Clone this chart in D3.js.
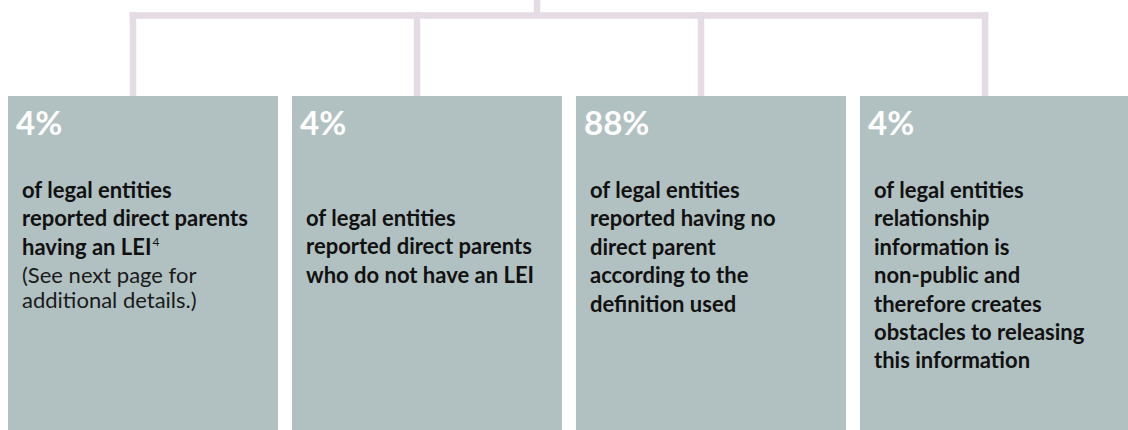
<!DOCTYPE html>
<html>
<head>
<meta charset="utf-8">
<script src="https://cdn.jsdelivr.net/npm/d3@7"></script>
<style>
    body { margin: 0; background: #ffffff; }
    #chart { width: 1128px; height: 430px; overflow: hidden; }
    svg { display: block; }
    .pct { font-family: Lato, 'Open Sans', sans-serif; font-weight: 700; fill: #ffffff; }
    .body-bold { font-family: Lato, 'Open Sans', sans-serif; font-weight: 700; fill: #111111; }
    .body-note { font-family: Lato, 'Open Sans', sans-serif; font-weight: 400; fill: #1a1a1a; }
</style>
</head>
<body>
<div id="chart"></div>
<script>
//Datos
let percents = ['4%', '4%', '88%', '4%'];
let boldLines = [
    ['of legal entities', 'reported direct parents', 'having an LEI'],
    ['of legal entities', 'reported direct parents', 'who do not have an LEI'],
    ['of legal entities', 'reported having no', 'direct parent', 'according to the', 'definition used'],
    ['of legal entities', 'relationship', 'information is', 'non-public and', 'therefore creates', 'obstacles to releasing', 'this information']
];
let footnotes = ['4', '', '', ''];
let noteLines = [
    ['(See next page for', 'additional details.)'],
    [], [], []
];

//Colores
let box_color = '#b1c1c1';
let line_color = '#e4dbe4';

//Ajustes de maquetación
let bodyShift = [0, 28, 0, 0];

function getChart() {
    let chartBlock = d3.select('#chart');
    let width = 1128, height = 430;

    let svg = chartBlock.append('svg')
        .attr('width', width)
        .attr('height', height);

    //Eje X de las tarjetas
    let x = d3.scaleBand()
        .domain(d3.range(percents.length))
        .range([8, 1130])
        .paddingInner(14 / 284)
        .paddingOuter(0);

    let boxTop = 96;
    let barY = 15.5;
    let stroke = 6.5;
    let connectX = function(i) { return x(i) + 125; };

    //Conectores
    let conn = svg.append('g');
    conn.append('line')
        .attr('x1', connectX(0) - stroke / 2)
        .attr('x2', connectX(percents.length - 1) + stroke / 2)
        .attr('y1', barY).attr('y2', barY)
        .attr('stroke', line_color)
        .attr('stroke-width', stroke);

    conn.append('line')
        .attr('x1', 537).attr('x2', 537)
        .attr('y1', 0).attr('y2', barY)
        .attr('stroke', line_color)
        .attr('stroke-width', stroke);

    conn.selectAll('.drop')
        .data(percents)
        .enter()
        .append('line')
        .attr('class', 'drop')
        .attr('x1', function(d, i) { return connectX(i); })
        .attr('x2', function(d, i) { return connectX(i); })
        .attr('y1', barY - stroke / 2)
        .attr('y2', boxTop + 1)
        .attr('stroke', line_color)
        .attr('stroke-width', stroke);

    //Tarjetas
    let cards = svg.selectAll('.card')
        .data(percents)
        .enter()
        .append('g')
        .attr('class', 'card')
        .attr('transform', function(d, i) { return 'translate(' + x(i) + ',' + boxTop + ')'; });

    cards.append('rect')
        .attr('width', x.bandwidth())
        .attr('height', height - boxTop)
        .style('fill', box_color);

    cards.append('text')
        .attr('class', 'pct')
        .attr('x', 8)
        .attr('y', 39)
        .style('font-size', '33px')
        .text(function(d) { return d; });

    //Texto en negrita
    cards.each(function(d, i) {
        let card = d3.select(this);
        let start = 102 + bodyShift[i];
        let lineH = 28.4;
        let lines = boldLines[i];

        lines.forEach(function(line, j) {
            let t = card.append('text')
                .attr('class', 'body-bold')
                .attr('x', 14)
                .attr('y', start + j * lineH)
                .style('font-size', '22px')
                .text(line);
            if (j == lines.length - 1 && footnotes[i] != '') {
                t.append('tspan')
                    .attr('dy', -9)
                    .attr('dx', 1)
                    .style('font-size', '12px')
                    .style('font-weight', 400)
                    .text(footnotes[i]);
            }
        });

        let noteStart = start + (lines.length - 1) * lineH + 28;
        noteLines[i].forEach(function(line, j) {
            card.append('text')
                .attr('class', 'body-note')
                .attr('x', 14)
                .attr('y', noteStart + j * 25)
                .style('font-size', '22px')
                .text(line);
        });
    });
}

getChart();
</script>
</body>
</html>
